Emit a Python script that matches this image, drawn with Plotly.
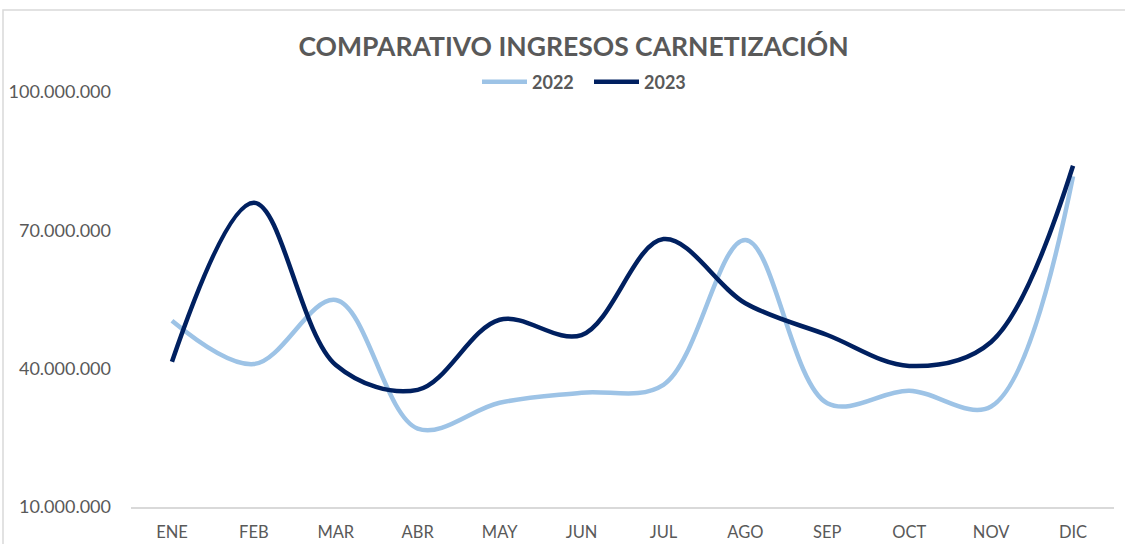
import plotly.graph_objects as go

# Monthly card-issuing income (COP)
meses = ["ENE", "FEB", "MAR", "ABR", "MAY", "JUN", "JUL", "AGO", "SEP", "OCT", "NOV", "DIC"]
ingresos_2022 = [50_400_000, 41_000_000, 54_900_000, 27_000_000, 32_600_000, 34_800_000,
                 36_500_000, 67_900_000, 32_500_000, 35_200_000, 31_800_000, 81_700_000]
ingresos_2023 = [41_500_000, 76_000_000, 40_800_000, 35_400_000, 50_600_000, 47_300_000,
                 68_100_000, 54_200_000, 47_300_000, 40_600_000, 45_800_000, 84_000_000]
y_ticks = [10_000_000, 40_000_000, 70_000_000, 100_000_000]
y_tick_labels = ["10.000.000", "40.000.000", "70.000.000", "100.000.000"]

TEXT = "#595959"
FONT = "Lato"

fig = go.Figure()
fig.add_trace(go.Scatter(
    x=meses, y=ingresos_2022, name="2022", mode="lines",
    line=dict(color="#9DC3E6", width=4.5, shape="spline", smoothing=1.0),
))
fig.add_trace(go.Scatter(
    x=meses, y=ingresos_2023, name="2023", mode="lines",
    line=dict(color="#002060", width=4.5, shape="spline", smoothing=1.0),
))

W, H = 1125, 544
L, R, T, B = 131, 11, 92, 37
pw, ph = W - L - R, H - T - B

def px_x(v):
    return (v - L) / pw

def px_y(v):
    return (H - B - v) / ph

fig.update_layout(
    width=W, height=H,
    margin=dict(l=L, r=R, t=T, b=B),
    paper_bgcolor="white", plot_bgcolor="white",
    font=dict(family=FONT, color=TEXT),
    title=dict(
        text="<b>COMPARATIVO INGRESOS CARNETIZACIÓN</b>",
        font=dict(family=FONT, size=26.5, color=TEXT),
        x=573.5 / W, xanchor="center", xref="container",
        y=1 - 47 / H, yanchor="middle", yref="container",
    ),
    legend=dict(
        orientation="h",
        x=px_x(589), xanchor="center",
        y=px_y(82), yanchor="middle",
        font=dict(family=FONT, size=18, color=TEXT, weight="bold"),
        itemwidth=45,
        entrywidth=52, entrywidthmode="pixels",
        bgcolor="rgba(0,0,0,0)",
    ),
    showlegend=True,
    xaxis=dict(
        type="category", range=[-0.5, 11.5],
        showgrid=False, zeroline=False,
        showline=True, linecolor="#D9D9D9", linewidth=1.5,
        ticks="", ticklabelstandoff=9, automargin=False,
        tickfont=dict(family=FONT, size=16.5, color=TEXT),
        fixedrange=True,
    ),
    yaxis=dict(
        range=[10_000_000, 100_000_000],
        tickvals=y_ticks, ticktext=y_tick_labels,
        showgrid=False, zeroline=False, showline=False,
        ticks="", ticklabelstandoff=19, automargin=False,
        tickfont=dict(family=FONT, size=18, color=TEXT),
        fixedrange=True,
    ),
    shapes=[dict(
        type="rect", xref="paper", yref="paper",
        x0=px_x(3), x1=px_x(1140), y0=px_y(560), y1=px_y(10),
        line=dict(color="#D9D9D9", width=1.5), fillcolor="rgba(0,0,0,0)",
        layer="below",
    )],
)

fig.write_html("out.html")
